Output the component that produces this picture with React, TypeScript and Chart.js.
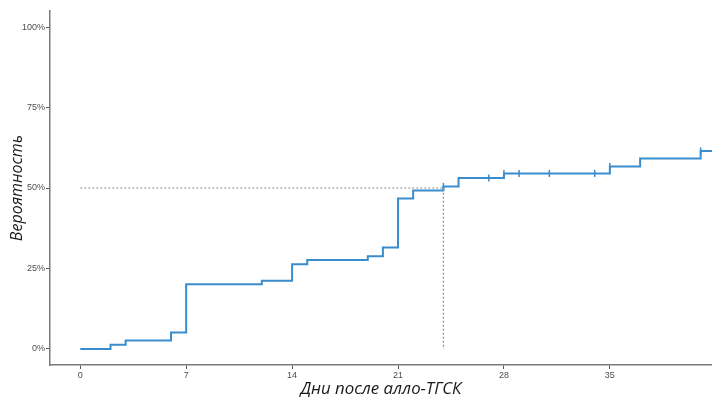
import React, { useEffect, useRef } from "react";
import { Chart, registerables } from "chart.js";

Chart.register(...registerables);

const stepDays = [0, 2, 3, 6, 7, 12, 14, 15, 19, 20, 21, 22, 24, 25, 28, 35, 37, 41, 43];
const stepValues = [0, 1.3, 2.6, 5.1, 20.1, 21.2, 26.3, 27.6, 28.8, 31.5, 46.7, 49.2, 50.5, 53.1, 54.5, 56.7, 59.2, 61.5, 61.5];
const censorDays = [24, 27, 28, 29, 31, 34, 35, 41];
const censorValues = [50.5, 53.1, 54.5, 54.5, 54.5, 54.5, 56.7, 61.5];
const medianDays = [0, 24, 24];
const medianValues = [50, 50, 0];
const xTicks = [0, 7, 14, 21, 28, 35];
const yTicks = [0, 25, 50, 75, 100];

const BLUE = "#3a8dcc";

export default function App() {
  const ref = useRef<HTMLCanvasElement | null>(null);
  useEffect(() => {
    if (!ref.current) return;
    const chart = new Chart(ref.current, {
      type: "line",
      data: {
        datasets: [
          {
            label: "median",
            data: medianDays.map((d, i) => ({ x: d, y: medianValues[i] })),
            borderColor: "#8c8c8c",
            borderWidth: 1.2,
            borderDash: [2, 2],
            pointRadius: 0,
            fill: false,
          },
          {
            label: "KM",
            data: stepDays.map((d, i) => ({ x: d, y: stepValues[i] })),
            borderColor: BLUE,
            borderWidth: 2,
            stepped: "before",
            pointRadius: 0,
            fill: false,
          },
          {
            label: "censor",
            data: censorDays.map((d, i) => ({ x: d, y: censorValues[i] })),
            showLine: false,
            pointStyle: "line",
            rotation: 90,
            pointRadius: 3.5,
            borderColor: BLUE,
            backgroundColor: BLUE,
            pointBorderWidth: 1.5,
          } as any,
        ],
      },
      options: {
        responsive: false,
        animation: false,
        layout: { autoPadding: false, padding: { top: 11, right: 0, left: 0, bottom: 0 } },
        plugins: { legend: { display: false }, tooltip: { enabled: false } },
        scales: {
          x: {
            type: "linear",
            min: -2,
            max: 41.75,
            afterBuildTicks: (s: any) => {
              s.ticks = xTicks.map((v) => ({ value: v }));
            },
            afterFit: (s: any) => {
              s.height = 33;
            },
            grid: { drawOnChartArea: false, drawTicks: true, tickLength: 4, color: "#555", lineWidth: 1 },
            border: { display: true, color: "#7a7a7a", width: 1.5 },
            ticks: {
              font: { family: "Liberation Sans", size: 9 },
              color: "#4d4d4d",
              padding: 1,
              maxRotation: 0,
              autoSkip: false,
            },
            title: {
              display: true,
              text: "Дни после алло-ТГСК",
              font: { family: "Open Sans", size: 16.8, style: "italic", lineHeight: 1 },
              color: "#1a1a1a",
              padding: { top: 0, bottom: 0 },
            },
          },
          y: {
            type: "linear",
            min: -5,
            max: 105,
            afterBuildTicks: (s: any) => {
              s.ticks = yTicks.map((v) => ({ value: v }));
            },
            afterFit: (s: any) => {
              s.width = 50;
            },
            grid: { drawOnChartArea: false, drawTicks: true, tickLength: 4, color: "#555", lineWidth: 1 },
            border: { display: true, color: "#7a7a7a", width: 1.5 },
            ticks: {
              font: { family: "Liberation Sans", size: 9 },
              color: "#4d4d4d",
              padding: 1,
              autoSkip: false,
              callback: (v: any) => v + "%",
            },
            title: {
              display: true,
              text: "Вероятность",
              font: { family: "Open Sans", size: 16, style: "italic", lineHeight: 1 },
              color: "#1a1a1a",
              padding: { top: 9, bottom: 0 },
            },
          },
        },
      },
    });
    return () => chart.destroy();
  }, []);
  return (
    <div style={{ position: "fixed", left: 0, top: 0, width: 712, height: 398, background: "#fff" }}>
      <canvas ref={ref} width={712} height={398} style={{ display: "block" }} />
    </div>
  );
}
